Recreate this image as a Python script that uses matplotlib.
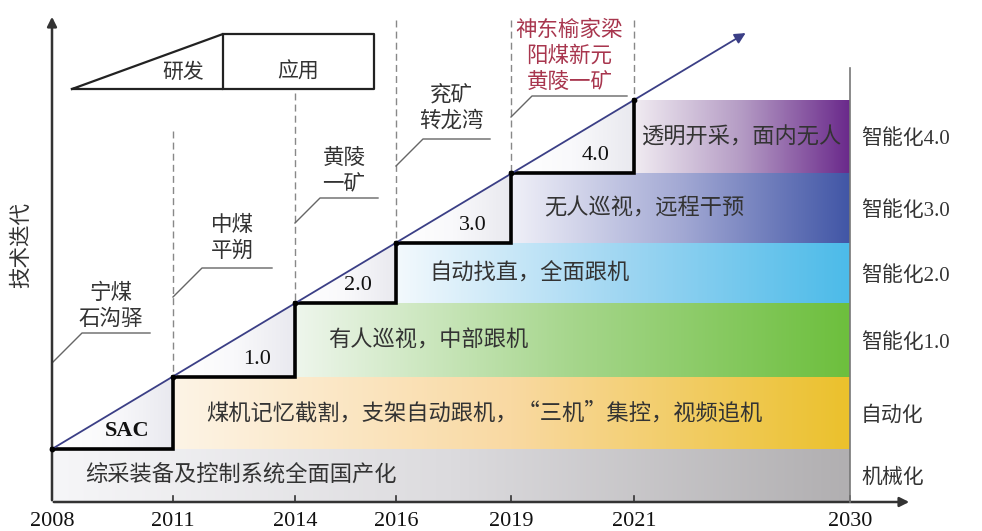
import numpy as np
import matplotlib.pyplot as plt
from matplotlib.colors import to_rgb
from matplotlib.patches import Polygon

plt.rcParams['font.family'] = ['Noto Sans CJK SC', 'DejaVu Sans']
MIX = ['Liberation Serif', 'Noto Sans CJK SC']

# 数据
years = ['2008', '2011', '2014', '2016', '2019', '2021', '2030']
stages = ['SAC', '1.0', '2.0', '3.0', '4.0']
levels = ['机械化', '自动化', '智能化1.0', '智能化2.0', '智能化3.0', '智能化4.0']
contents = ['综采装备及控制系统全面国产化',
            '煤机记忆截割，支架自动跟机，“三机”集控，视频追机',
            '有人巡视，中部跟机',
            '自动找直，全面跟机',
            '无人巡视，远程干预',
            '透明开采，面内无人']
sites = ['宁煤\n石沟驿', '中煤\n平朔', '黄陵\n一矿', '兖矿\n转龙湾',
         '神东榆家梁\n阳煤新元\n黄陵一矿']

# 版面（示意图坐标）
x_year = [52, 173, 295, 396, 511, 634, 850]
y_edge = [502, 449, 377, 303, 243, 173, 100]
band_stops = [
    ['#f6f6f8', '#dcdbde', '#b1afb1'],
    ['#fdf4e6', '#f9d9a2', '#ebc12c'],
    ['#eef6ec', '#a6d68c', '#6dbf3d'],
    ['#f3f9fd', '#9fd6f2', '#4cbbe9'],
    ['#f0f0f8', '#a3a9d4', '#4156a6'],
    ['#f1ecf2', '#b49bc4', '#6a298b'],
]


def gradient(stops, n=256):
    cols = np.array([to_rgb(c) for c in stops])
    pos = np.linspace(0, 1, len(stops))
    t = np.linspace(0, 1, n)
    img = np.stack([np.interp(t, pos, cols[:, k]) for k in range(3)], axis=-1)
    return img[np.newaxis, :, :]


fig = plt.figure(figsize=(9.82, 5.31), dpi=100)
ax = fig.add_axes([0, 0, 1, 1])
ax.set_xlim(0, 982)
ax.set_ylim(531, 0)
ax.axis('off')

# 色带
for i, lev in enumerate(levels):
    x0, x1 = x_year[i], x_year[-1]
    y0, y1 = y_edge[i], y_edge[i + 1]
    ax.imshow(gradient(band_stops[i]), extent=(x0, x1, y0, y1),
              aspect='auto', interpolation='bilinear', zorder=1)
    ax.text(x0 + (33 if i < 5 else 8), (y0 + y1) / 2, contents[i],
            fontsize=16, color='#333333', va='center', ha='left', zorder=5)
    ax.text(861, (y0 + y1) / 2 + 3, lev, family=MIX, fontsize=15,
            color='#333333', va='center', ha='left')

# 研发三角区
for k, st in enumerate(stages):
    xa, xb = x_year[k], x_year[k + 1]
    ya, yb = y_edge[k + 1], y_edge[k + 2]
    tri = Polygon([(xa, ya), (xb, ya), (xb, yb)], closed=True,
                  facecolor='none', edgecolor='none')
    ax.add_patch(tri)
    im = ax.imshow(gradient(['#ffffff', '#f9f9fb', '#e9e9ef']),
                   extent=(xa, xb, ya, yb), aspect='auto',
                   interpolation='bilinear', zorder=2)
    im.set_clip_path(tri)
    ax.text(xb - 24, ya - 18, st, family='Liberation Serif', fontsize=16,
            fontweight='bold' if k == 0 else 'normal',
            ha='right', va='center', color='#111111', zorder=5)

# 阶梯线
sx, sy = [x_year[0]], [y_edge[1]]
for k in range(len(stages)):
    sx += [x_year[k + 1], x_year[k + 1]]
    sy += [y_edge[k + 1], y_edge[k + 2]]
ax.plot(sx, sy, color='black', lw=2.6, zorder=6, solid_joinstyle='miter')
ax.scatter(x_year[:6], y_edge[1:], s=10, color='black', zorder=7)

# 对角箭头
slope = (y_edge[6] - y_edge[1]) / (x_year[5] - x_year[0])
x_end = 748
ax.annotate('', xy=(x_end, y_edge[1] + slope * (x_end - x_year[0])),
            xytext=(x_year[0], y_edge[1]),
            arrowprops=dict(arrowstyle='-|>', color='#3b3f86', lw=1.3,
                            mutation_scale=16), zorder=6)

# 虚线与示范矿井
dash_top = [165, 131, 93, 20, 20]
label_y = [306, 238, 171, 108, 56]
leader_y = [333, 268, 198, 139, 96]
leader_x = [(82, 150), (202, 272), (320, 378), (423, 490), (532, 627)]
for k, s in enumerate(sites):
    xd = x_year[k]
    if k > 0:
        ax.plot([xd, xd], [dash_top[k], y_edge[k + 1]], color='#888888',
                lw=1, ls=(0, (5, 3)), zorder=3)
    lx0, lx1 = leader_x[k]
    ax.plot([xd, lx0, lx1], [leader_y[k] + (lx0 - xd), leader_y[k], leader_y[k]],
            color='#666666', lw=1, zorder=3)
    ax.text((lx0 + lx1) / 2 + (-5 if k < 4 else -10), label_y[k], s,
            fontsize=15.5, ha='center', va='center', linespacing=1.25,
            color='#a8364e' if k == 4 else '#333333')
ax.plot([x_year[5], x_year[5]], [dash_top[4], y_edge[6]], color='#888888',
        lw=1, ls=(0, (5, 3)), zorder=3)

# 坐标轴
ax.annotate('', xy=(52, 14), xytext=(52, 503),
            arrowprops=dict(arrowstyle='-|>', color='#333333', lw=1.8,
                            mutation_scale=14))
ax.annotate('', xy=(912, 502), xytext=(51, 502),
            arrowprops=dict(arrowstyle='-|>', color='#333333', lw=1.8,
                            mutation_scale=14))
ax.plot([850, 850], [68, 502], color='#777777', lw=1.2, zorder=3)
for xv, yr in zip(x_year, years):
    if xv > 52:
        ax.plot([xv, xv], [496, 502], color='#333333', lw=1.2)
    ax.text(xv, 521, yr, family='Liberation Serif', fontsize=16,
            ha='center', va='center', color='#111111')
ax.text(21, 245, '技术迭代', rotation=90, fontsize=15.5, ha='center',
        va='center', color='#333333')

# 图例：研发 / 应用
ax.plot([72, 223, 223, 72], [89, 34, 89, 89], color='#222222', lw=1.6)
ax.plot([223, 374, 374, 223], [34, 34, 89, 89], color='#222222', lw=1.6)
ax.text(183, 72, '研发', fontsize=15, ha='center', va='center', color='#333333')
ax.text(298, 72, '应用', fontsize=15, ha='center', va='center', color='#333333')

fig.savefig('out.png', dpi=100)
